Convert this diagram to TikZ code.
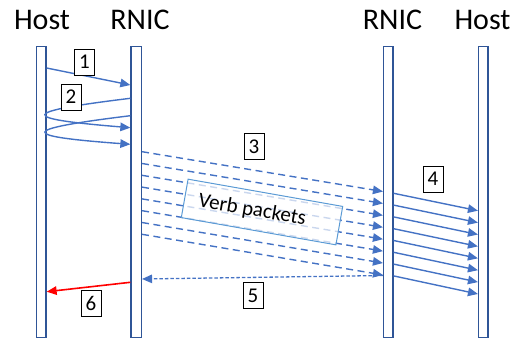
\documentclass[tikz,border=0pt]{standalone}
\usepackage{fontspec}
\setmainfont{Carlito}
\usetikzlibrary{arrows.meta}
\definecolor{barblue}{HTML}{2F5597}
\definecolor{arrblue}{HTML}{4472C4}
\definecolor{boxblue}{HTML}{5B9BD5}
\definecolor{msgred}{HTML}{FF0000}

\begin{document}
\begin{tikzpicture}[x=1pt,y=-1pt,
  lifeline/.style={draw=barblue, line width=1.2pt, fill=white, minimum height=291.5pt,
    minimum width=9.5pt, inner sep=0pt, anchor=north},
  title/.style={font=\fontsize{30}{32}\selectfont, anchor=base, inner sep=0pt},
  numbox/.style={draw=black, line width=0.8pt, fill=white, minimum width=20pt,
    minimum height=26pt, inner sep=0pt, font=\fontsize{21}{22}\selectfont},
  msg/.style={draw=arrblue, line width=1.4pt, -{Triangle[length=10pt,width=8.5pt]}},
  pkt/.style={msg, dash pattern=on 7pt off 4.5pt},
  ack/.style={msg, line width=1.3pt, dash pattern=on 3.5pt off 2pt},
  notify/.style={draw=msgred, line width=1.6pt, -{Triangle[length=10pt,width=8.5pt]}},
  verbbox/.style={draw=boxblue, line width=1pt, fill=white, fill opacity=0.72,
    text opacity=1, minimum width=157pt, minimum height=39pt, inner sep=0pt,
    font=\fontsize{21}{22}\selectfont}
]
\useasboundingbox (0,0) rectangle (522,341);

% column titles
\node[title] (tHostL) at (42,29.3) {Host};
\node[title] (tNicL) at (140,29.3) {RNIC};
\node[title] (tNicR) at (392.5,29.3) {RNIC};
\node[title] (tHostR) at (482.5,29.3) {Host};

% lifelines
\node[lifeline] (hL) at (41.3,45.6) {};
\node[lifeline, minimum width=10.5pt] (rL) at (136.2,45.6) {};
\node[lifeline] (rR) at (388.3,45.6) {};
\node[lifeline] (hR) at (483.3,45.6) {};

% 1: host posts a request to the local RNIC
\draw[msg] (hL.east |- 0,68) -- (rL.west |- 0,85);

% 2: RNIC reads from host memory (two round trips)
\draw[msg] (rL.west |- 0,98.3) .. controls (18,112) and (18,118.5) .. (rL.west |- 0,127.7);
\draw[msg] (rL.west |- 0,115.7) .. controls (18,129.5) and (18,136) .. (rL.west |- 0,144.3);

% 3: verb packets over the network
\foreach \i in {0,...,7}{
  \pgfmathsetmacro{\ys}{151.7+11.8*\i}
  \pgfmathsetmacro{\ye}{191.5+11.92*\i}
  \draw[pkt] (rL.east |- 0,\ys) -- (rR.west |- 0,\ye);
}

% 4: remote RNIC writes into remote host memory
\foreach \i in {0,...,7}{
  \pgfmathsetmacro{\ys}{193.3+11.8*\i}
  \pgfmathsetmacro{\ye}{210.7+11.9*\i}
  \draw[msg] (rR.east |- 0,\ys) -- (hR.west |- 0,\ye);
}

% 5: acknowledgement back to the local RNIC
\draw[ack] (rR.west |- 0,275.5) -- (rL.east |- 0,279);

% 6: completion to the local host
\draw[notify] (rL.west |- 0,282.3) -- (hL.east |- 0,291.7);

% packet label (text sits a little left of the box centre)
\node[verbbox, rotate=-10] (verb) at (262,212) {Verb packets\hspace*{20pt}};

% step numbers
\node[numbox] (n1) at (84.5,62) {1};
\node[numbox] (n2) at (71,97) {2};
\node[numbox] (n3) at (254,146.5) {3};
\node[numbox] (n4) at (433,179) {4};
\node[numbox] (n5) at (253,295.5) {5};
\node[numbox] (n6) at (91,303.7) {6};
\end{tikzpicture}
\end{document}
